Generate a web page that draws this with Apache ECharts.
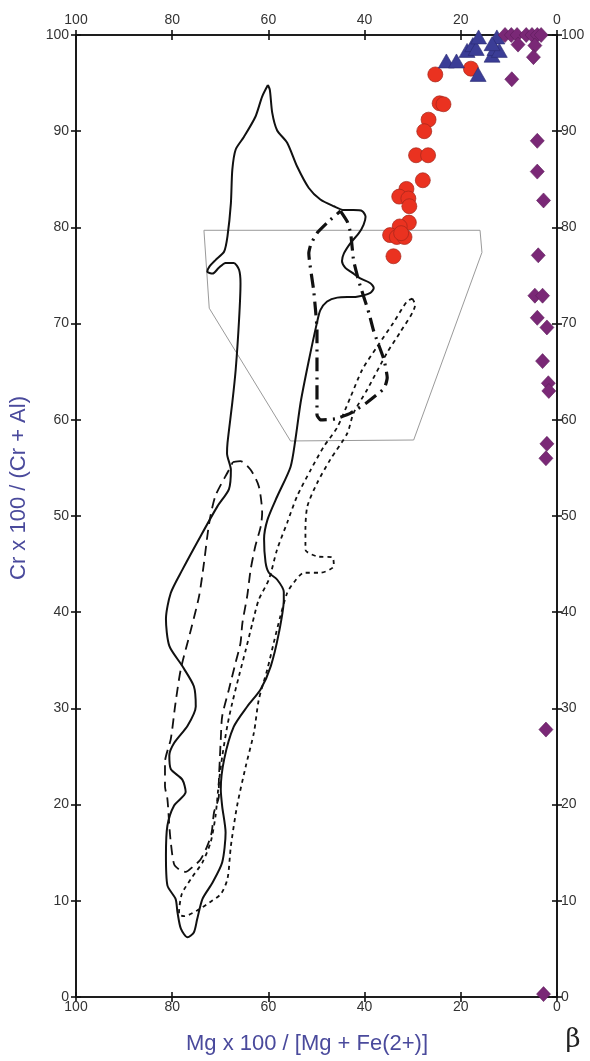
<!DOCTYPE html>
<html><head><meta charset="utf-8">
<script src="https://cdn.jsdelivr.net/npm/echarts/dist/echarts.min.js"></script>
<style>html,body{margin:0;padding:0;background:#fff}#c{width:590px;height:1061px}</style>
</head><body><div id="c"></div>
<script>
// Axis ticks
const xTickValues = [100, 80, 60, 40, 20, 0];
const yTickValues = [0, 10, 20, 30, 40, 50, 60, 70, 80, 90, 100];

// Scatter data [Mg#, Cr#]
const circlePoints = [
  [25.3,95.9],[17.9,96.5],[24.4,92.9],[23.6,92.8],[26.7,91.2],[27.6,90.0],[29.3,87.5],[26.8,87.5],
  [27.9,84.9],[31.3,84.0],[32.8,83.2],[30.9,83.0],[30.7,82.2],[30.8,80.5],[32.7,80.1],[34.7,79.2],
  [33.3,79.0],[31.7,79.0],[32.4,79.4],[34.0,77.0]
];
const trianglePoints = [
  [23.0,97.3],[20.9,97.3],[18.7,98.4],[17.5,99.0],[16.8,98.6],[16.3,99.8],[16.4,95.9],[13.5,97.9],
  [12.9,98.6],[12.5,99.8],[12.0,98.4],[13.5,99.1]
];
const diamondPoints = [
  [10.8,100],[9.5,100],[8.3,100],[8.1,99.0],[6.4,100],[5.2,100],[4.1,100],[3.3,100],[4.6,98.9],
  [4.9,97.7],[9.4,95.4],[4.1,89.0],[4.1,85.8],[2.8,82.8],[3.9,77.1],[4.6,72.9],[3.0,72.9],[4.1,70.6],
  [2.1,69.6],[3.0,66.1],[1.8,63.8],[1.7,63.0],[2.1,57.5],[2.3,56.0],[2.3,27.8],[2.8,0.3]
];

// Field outlines [Mg#, Cr#]
const solidField = [
  [60.1,94.8],[61.3,93.6],[62.7,91.5],[65.1,89.4],[66.8,88.1],[67.5,86.0],[67.8,82.5],[68.5,79.1],
  [69.2,77.5],[71.0,76.6],[72.3,75.9],[72.7,75.4],[71.6,75.2],[70.3,75.8],[68.9,76.3],[67.2,76.3],
  [66.1,75.6],[65.8,74.2],[66.1,70.4],[66.8,65.2],[67.5,61.8],[68.5,57.6],[68.6,56.5],[67.8,54.8],
  [68.2,52.8],[70.6,51.0],[74.1,47.9],[77.9,44.4],[80.3,42.0],[81.3,39.3],[80.6,36.5],[77.9,34.4],
  [75.5,32.3],[75.1,30.2],[76.8,28.2],[79.6,26.4],[80.6,25.1],[80.3,23.7],[77.9,22.6],[77.2,21.3],
  [79.6,19.9],[81.0,17.8],[81.3,14.7],[81.0,11.6],[79.3,10.2],[78.9,8.8],[78.2,7.1],[76.8,6.2],
  [75.5,6.7],[74.8,8.1],[73.7,10.2],[71.6,11.9],[69.6,14.0],[68.9,17.1],[69.6,19.8],[69.9,21.6],
  [69.2,24.7],[67.2,28.1],[64.4,30.2],[61.6,32.0],[59.5,34.4],[57.8,37.9],[56.8,41.3],[56.8,42.1],
  [58.2,43.4],[59.9,44.1],[60.6,45.2],[60.9,47.6],[60.2,49.6],[58.2,52.0],[55.4,55.1],[54.4,57.9],
  [53.3,61.8],[51.7,65.9],[49.9,70.1],[49.2,71.4],[47.8,72.3],[45.7,72.7],[41.6,72.8],[38.8,73.2],
  [38.1,73.7],[38.8,74.2],[40.9,74.7],[42.6,75.3],[44.0,75.8],[44.7,76.5],[44.3,77.3],[42.9,78.4],
  [41.2,79.4],[40.2,80.3],[39.8,81.1],[40.5,81.7],[42.3,81.8],[44.3,81.8],[46.4,82.2],[49.2,82.9],
  [51.6,84.1],[54.0,86.3],[56.1,88.8],[58.2,90.1],[59.2,91.9],[59.7,94.3],[60.1,94.8]
];
const longDashField = [
  [67.4,55.6],[65.8,55.7],[63.7,54.8],[62.0,53.1],[61.3,50.3],[61.6,48.9],[62.7,46.9],[63.7,44.4],
  [64.4,41.7],[65.4,38.9],[65.8,36.8],[66.8,34.8],[68.2,32.0],[69.6,29.2],[69.9,26.8],[70.1,24.7],
  [70.3,22.3],[70.3,20.9],[71.3,19.2],[71.8,17.1],[72.7,15.7],[74.1,14.3],[75.8,13.5],[77.2,13.0],
  [78.4,13.2],[79.6,13.8],[80.3,16.1],[80.6,17.8],[81.0,20.6],[81.5,21.9],[81.5,24.4],[80.3,26.8],
  [79.3,30.6],[78.2,34.1],[76.1,38.2],[74.4,41.7],[73.4,45.1],[72.3,49.3],[71.0,52.1],[68.2,54.8],
  [67.4,55.6]
];
const dottedField = [
  [30.1,72.6],[29.5,72.0],[32.6,69.1],[35.3,67.0],[39.5,63.1],[42.3,60.7],[43.6,58.6],[47.1,55.9],
  [49.9,53.4],[51.9,51.0],[52.3,48.6],[52.3,46.5],[49.9,45.8],[46.7,45.7],[46.4,44.8],[49.2,44.1],
  [52.6,44.1],[54.7,43.1],[56.1,42.0],[57.5,39.6],[58.9,36.8],[60.2,34.1],[62.0,30.9],[63.0,27.5],
  [64.7,24.0],[66.5,19.9],[67.8,15.7],[68.5,12.3],[69.9,10.7],[72.3,9.8],[74.8,9.0],[77.5,8.4],
  [78.6,8.6],[78.0,10.7],[75.8,12.5],[73.7,14.0],[72.0,16.1],[71.0,18.8],[70.3,22.3],[69.6,25.0],
  [68.5,28.3],[67.5,30.6],[66.1,33.4],[64.7,36.1],[63.3,38.9],[62.0,41.3],[59.9,43.4],[58.2,46.5],
  [56.1,49.3],[54.0,52.1],[51.2,54.8],[48.5,57.2],[45.7,59.2],[42.9,62.4],[40.5,65.2],[37.4,67.6],
  [34.0,70.1],[31.2,72.3],[30.1,72.6]
];
const dashDotField = [
  [45.0,81.7],[43.6,80.6],[42.9,79.4],[42.3,76.6],[41.2,74.4],[39.1,71.1],[38.1,69.2],[36.0,66.3],
  [35.3,64.4],[35.9,63.3],[39.5,61.8],[42.9,60.7],[46.1,60.1],[49.2,60.0],[49.9,60.5],[49.9,63.9],
  [49.9,65.9],[49.9,69.4],[50.2,71.4],[50.6,73.5],[51.6,77.3],[51.2,78.2],[49.9,79.4],[47.1,80.8],
  [45.0,81.7]
];
const greyField = [
  [73.4,79.7],[16.0,79.7],[15.6,77.4],[29.8,57.9],[55.4,57.8],[72.3,71.6],[73.4,79.7]
];

const FONT = '"Liberation Sans", Arial, sans-serif';
const axisBase = {
  type: 'value', min: Math.min(...xTickValues), max: Math.max(...xTickValues),
  interval: xTickValues[0] - xTickValues[1], inverse: true,
  splitLine: { show: false }
};
function xAx(pos, inside, labels) {
  return Object.assign({}, axisBase, {
    position: pos,
    axisLine: { show: true, onZero: false, lineStyle: { color: '#111', width: 1.6 } },
    axisTick: { show: true, inside: inside, length: 5, lineStyle: { color: '#111', width: 1.6 } },
    axisLabel: { show: labels, margin: pos === 'top' ? 8 : 3, color: '#333', fontSize: 14,
      fontFamily: FONT, showMinLabel: true, showMaxLabel: true }
  });
}
function yAx(pos, inside, labels) {
  return {
    type: 'value', min: yTickValues[0], max: yTickValues[yTickValues.length - 1],
    interval: yTickValues[1] - yTickValues[0], position: pos, splitLine: { show: false },
    axisLine: { show: true, onZero: false, lineStyle: { color: '#111', width: 1.6 } },
    axisTick: { show: true, inside: inside, length: 5, lineStyle: { color: '#111', width: 1.6 } },
    axisLabel: { show: labels, margin: pos === 'left' ? 7 : 4, color: '#333', fontSize: 14,
      fontFamily: FONT, showMinLabel: true, showMaxLabel: true }
  };
}
function outline(data, type, width, color, z) {
  return {
    type: 'line', data: data, symbol: 'none', smooth: 0.25, silent: true, z: z,
    lineStyle: { color: color, width: width, type: type }
  };
}

const chart = echarts.init(document.getElementById('c'), null, { renderer: 'canvas' });
chart.setOption({
  animation: false,
  backgroundColor: '#fff',
  grid: { left: 76, right: 33, top: 35, bottom: 64, containLabel: false, outerBoundsMode: 'none' },
  xAxis: [xAx('bottom', false, true), xAx('top', false, true), xAx('bottom', true, false), xAx('top', true, false)],
  yAxis: [yAx('left', false, true), yAx('right', false, true), yAx('left', true, false), yAx('right', true, false)],
  series: [
    Object.assign(outline(greyField, 'solid', 1, '#9a9a9a', 1), { smooth: false }),
    outline(solidField, 'solid', 2, '#111', 2),
    outline(longDashField, [10, 6], 1.8, '#111', 2),
    outline(dottedField, [4, 4], 1.8, '#111', 2),
    Object.assign(outline(dashDotField, [14, 6, 2, 6], 3.2, '#111', 2), { smooth: 0.15 }),
    { type: 'scatter', data: circlePoints, symbol: 'circle', symbolSize: 15, z: 5,
      itemStyle: { color: '#ea3220', borderColor: '#a3261b', borderWidth: 0.7, opacity: 1 } },
    { type: 'scatter', data: trianglePoints, symbol: 'triangle', symbolSize: [16, 14], z: 6,
      itemStyle: { color: '#3b3d96', borderColor: '#2a2a70', borderWidth: 0.6, opacity: 1 } },
    { type: 'scatter', data: diamondPoints, symbol: 'diamond', symbolSize: [14, 15], z: 7,
      itemStyle: { color: '#7a2876', borderColor: '#5c1c5a', borderWidth: 0.6, opacity: 1 } }
  ],
  graphic: [
    { type: 'text', x: 307, y: 1044, style: { text: 'Mg x 100 / [Mg + Fe(2+)]', font: '22px ' + FONT,
      fill: '#4a4a9c', align: 'center', verticalAlign: 'middle' } },
    { type: 'text', x: 19, y: 488, rotation: Math.PI / 2, style: { text: 'Cr x 100 / (Cr + Al)',
      font: '22px ' + FONT, fill: '#4a4a9c', align: 'center', verticalAlign: 'middle' } },
    { type: 'text', x: 573, y: 1040, style: { text: 'β', font: '26px "DejaVu Serif", serif',
      fill: '#222', align: 'center', verticalAlign: 'middle' } }
  ]
});
</script></body></html>
